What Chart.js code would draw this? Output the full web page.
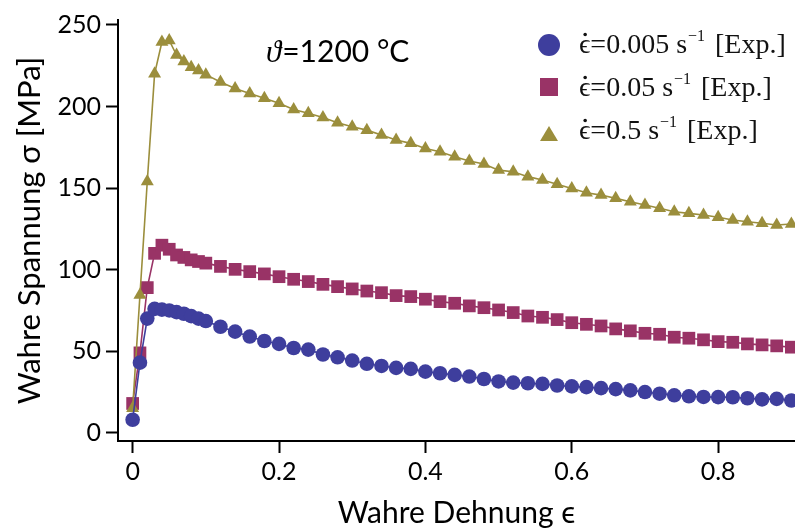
<!DOCTYPE html>
<html>
<head>
<meta charset="utf-8">
<script src="https://cdn.jsdelivr.net/npm/chart.js@4.4.1/dist/chart.umd.min.js"></script>
<style>
  html, body { margin: 0; padding: 0; background: #fff; }
  canvas { display: block; }
</style>
</head>
<body>
<canvas id="chart" width="795" height="531"></canvas>
<script>
// ── Data ──
const strain = [0, 0.01, 0.02, 0.03, 0.04, 0.05, 0.06, 0.07, 0.08, 0.09, 0.10,
  0.12, 0.14, 0.16, 0.18, 0.20, 0.22, 0.24, 0.26, 0.28, 0.30, 0.32, 0.34, 0.36, 0.38,
  0.40, 0.42, 0.44, 0.46, 0.48, 0.50, 0.52, 0.54, 0.56, 0.58, 0.60, 0.62, 0.64, 0.66,
  0.68, 0.70, 0.72, 0.74, 0.76, 0.78, 0.80, 0.82, 0.84, 0.86, 0.88, 0.90];

const stress0005 = [8, 43, 70, 76, 75.5, 75, 74, 73, 71.5, 70, 68.5,
  65, 62, 59, 56.3, 54.5, 52, 51, 48, 46.3, 44.3, 42.3, 41, 39.8, 39.2,
  37.5, 36.5, 35.5, 34.5, 33, 31.5, 30.8, 30.4, 30, 29, 28.5, 28, 27.4, 26.8,
  26, 25, 24, 23, 22.4, 22, 21.9, 21.8, 21.2, 20.5, 20.8, 19.8];

const stress005 = [18, 49, 89, 110, 115, 112.5, 109, 107.5, 106, 105, 104,
  102, 100.2, 98.8, 97.4, 95.7, 94.1, 92.7, 91, 89.6, 88.2, 86.9, 85.9, 84.1, 83.5,
  81.9, 80.4, 79.4, 77.8, 76.7, 75.3, 73.7, 71.6, 70.8, 69.4, 67.5, 66.5, 65.5, 63.7,
  62.5, 61, 60.4, 58.6, 58, 57, 55.9, 55.5, 54.5, 53.9, 53.3, 52.5];

const stress05 = [15, 84.5, 154, 220, 239.5, 240.5, 231.5, 227.5, 224, 222, 219.5,
  215, 211, 208, 205, 202, 198.2, 195.8, 193.3, 190, 187.6, 185.5, 182.5, 179.4, 177.4,
  174.3, 172.3, 169.2, 166.6, 164.7, 161, 160, 157, 155, 152.3, 149.8, 147.1, 145.7, 143.7,
  141.6, 139.6, 137.6, 135.5, 134.5, 133.5, 132.1, 130.4, 129.4, 128.4, 127.4, 128];

const xTicks = [0, 0.2, 0.4, 0.6, 0.8];
const yTicks = [0, 50, 100, 150, 200, 250];
const seriesLabels = ["0.005", "0.05", "0.5"];

// ── Styles ──
const BLUE = "#3e3e9d", PLUM = "#993366", OLIVE = "#9b8e3c";
const SANS = "Lato, 'Open Sans', sans-serif";
const SERIF = "'Liberation Serif', 'DejaVu Serif', serif";

function series(data, color, style, radius, order) {
  return {
    data: strain.map((x, i) => ({ x, y: data[i] })),
    borderColor: color,
    backgroundColor: color,
    pointBackgroundColor: color,
    pointBorderColor: color,
    pointBorderWidth: 0,
    pointStyle: style,
    pointRadius: radius,
    borderWidth: 1.6,
    tension: 0,
    clip: false,
    order
  };
}

// legend + temperature note drawn in the plot
const annotations = {
  id: "annotations",
  afterDraw(chart) {
    const ctx = chart.ctx;
    ctx.save();

    // ϑ=1200 °C
    ctx.fillStyle = "#000";
    ctx.textBaseline = "alphabetic";
    ctx.font = "italic 31px " + SERIF;
    ctx.fillText("ϑ", 266, 62);
    const w = ctx.measureText("ϑ").width;
    ctx.font = "30px " + SANS;
    ctx.fillText("=1200 °C", 266 + w + 1, 62);

    // legend
    const colors = [BLUE, PLUM, OLIVE];
    const rows = [53, 96, 139];
    const mx = 549;
    rows.forEach((by, i) => {
      ctx.fillStyle = colors[i];
      ctx.beginPath();
      if (i === 0) {
        ctx.arc(mx, by - 8, 11, 0, Math.PI * 2);
      } else if (i === 1) {
        ctx.rect(mx - 9, by - 18, 18, 18);
      } else {
        ctx.moveTo(mx, by - 13);
        ctx.lineTo(mx + 9, by + 2);
        ctx.lineTo(mx - 9, by + 2);
        ctx.closePath();
      }
      ctx.fill();

      ctx.fillStyle = "#111";
      let x = 579;
      ctx.font = "28px " + SERIF;
      const eps = "ϵ";
      ctx.fillText(eps, x, by);
      const ew = ctx.measureText(eps).width;
      // dot for the time derivative
      ctx.beginPath();
      ctx.arc(x + ew / 2 + 0.5, by - 18.5, 1.8, 0, Math.PI * 2);
      ctx.fill();
      x += ew;
      const main = "=" + seriesLabels[i] + " s";
      ctx.fillText(main, x, by);
      x += ctx.measureText(main).width + 1;
      ctx.font = "16px " + SERIF;
      ctx.fillText("−1", x, by - 12);
      x += ctx.measureText("−1").width;
      ctx.font = "28px " + SERIF;
      ctx.fillText(" [Exp.]", x + 3, by);
    });
    ctx.restore();
  }
};

new Chart(document.getElementById("chart"), {
  type: "line",
  data: {
    datasets: [
      series(stress0005, BLUE, "circle", 7.3, 0),
      series(stress005, PLUM, "rect", 9, 2),
      series(stress05, OLIVE, "triangle", 7.5, 1)
    ]
  },
  options: {
    responsive: false,
    animation: false,
    layout: { autoPadding: false, padding: { top: 20, right: 0, left: 0, bottom: 0 } },
    plugins: {
      legend: { display: false },
      tooltip: { enabled: false }
    },
    scales: {
      x: {
        type: "linear",
        min: -0.02,
        max: 0.905,
        afterBuildTicks: (s) => { s.ticks = xTicks.map((v) => ({ value: v })); },
        afterFit: (s) => { s.height = 90; },
        border: { color: "#000", width: 2 },
        grid: { drawOnChartArea: false, drawTicks: true, tickLength: 12, tickColor: "#000", tickWidth: 2 },
        ticks: {
          color: "#000",
          padding: 4,
          font: { family: SANS, size: 25 },
          callback: (v) => String(v)
        },
        title: {
          display: true,
          text: "Wahre Dehnung ϵ",
          color: "#000",
          font: { family: SANS, size: 30 },
          padding: { top: 0, bottom: 0 }
        }
      },
      y: {
        min: -5,
        max: 253,
        afterBuildTicks: (s) => { s.ticks = yTicks.map((v) => ({ value: v })); },
        afterFit: (s) => { s.width = 118; },
        border: { color: "#000", width: 2 },
        grid: { drawOnChartArea: false, drawTicks: true, tickLength: 12, tickColor: "#000", tickWidth: 2 },
        ticks: {
          color: "#000",
          padding: 5,
          font: { family: SANS, size: 25 },
          callback: (v) => String(v)
        },
        title: {
          display: true,
          text: "Wahre Spannung σ [MPa]",
          color: "#000",
          font: { family: SANS, size: 31 },
          padding: { top: 11, bottom: 0 }
        }
      }
    }
  },
  plugins: [annotations]
});
</script>
</body>
</html>
